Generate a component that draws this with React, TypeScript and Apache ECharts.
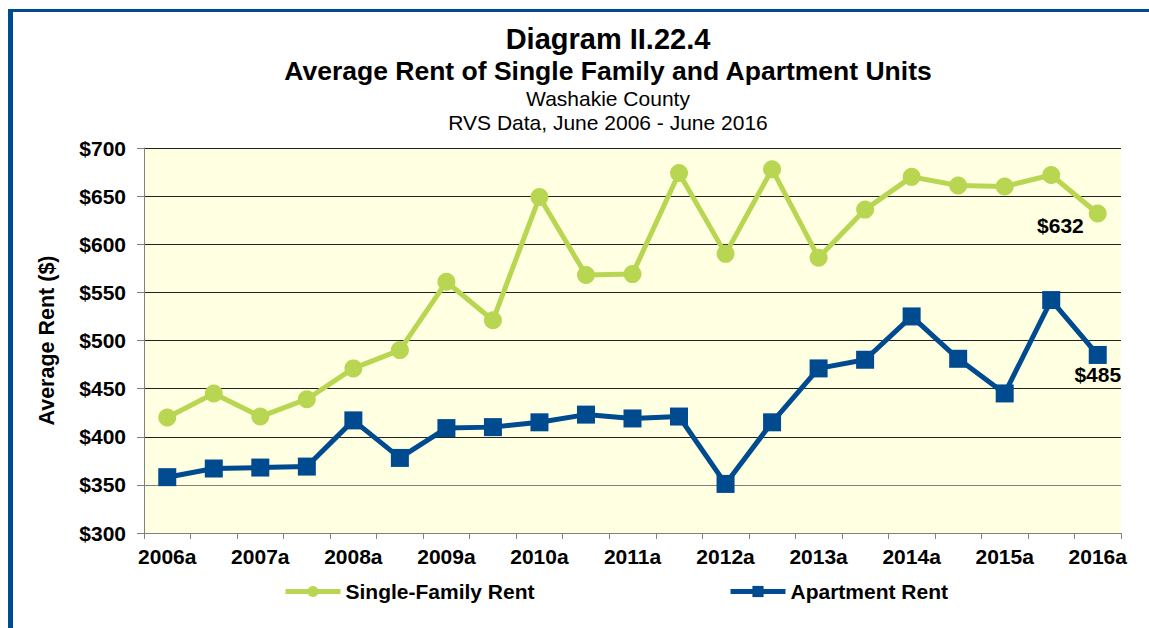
import React, { useEffect, useRef } from "react";
import * as echarts from "echarts";

const categories: string[] = [
  "2006a", "2006b", "2007a", "2007b", "2008a", "2008b", "2009a", "2009b",
  "2010a", "2010b", "2011a", "2011b", "2012a", "2012b", "2013a", "2013b",
  "2014a", "2014b", "2015a", "2015b", "2016a",
];

const singleFamilyRent: number[] = [
  420, 445, 421, 439, 471, 490, 561, 521, 649, 568, 569,
  674, 590, 678, 586, 636, 670, 661, 660, 672, 632,
];

const apartmentRent: number[] = [
  358, 367, 368, 369, 417, 378, 409, 410, 415, 423, 419,
  421, 351, 415, 471, 480, 525, 481, 445, 542, 485,
];

const titleLines: string[] = [
  "Diagram II.22.4",
  "Average Rent of Single Family and Apartment Units",
  "Washakie County",
  "RVS Data, June 2006 - June 2016",
];

const GREEN = "#b8d652";
const BLUE = "#004a90";
const FONT = "Liberation Sans, Arial, sans-serif";
const FS = 21;

export default function App() {
  const ref = useRef<HTMLDivElement>(null);

  useEffect(() => {
    if (!ref.current) return;
    const chart = echarts.init(ref.current, undefined, { renderer: "svg" });

    const lastIdx = categories.length - 1;
    const sfData = singleFamilyRent.map((v, i) =>
      i === lastIdx
        ? {
            value: v,
            label: {
              show: true,
              position: "left",
              distance: 5,
              offset: [0, 12],
              formatter: "${c}",
              color: "#000",
              fontWeight: "bold",
              fontSize: FS,
              fontFamily: FONT,
            },
          }
        : v
    );
    const apData = apartmentRent.map((v, i) =>
      i === lastIdx
        ? {
            value: v,
            label: {
              show: true,
              position: "bottom",
              distance: 5,
              offset: [0, -5],
              formatter: "${c}",
              color: "#000",
              fontWeight: "bold",
              fontSize: FS,
              fontFamily: FONT,
            },
          }
        : v
    );

    const titleStyles = [
      { size: 29, weight: "bold", y: 39 },
      { size: 26.5, weight: "bold", y: 71 },
      { size: 21, weight: "normal", y: 98 },
      { size: 21, weight: "normal", y: 122 },
    ];

    const legendText = { color: "#000", fontWeight: "bold", fontSize: FS, fontFamily: FONT };

    const option: any = {
      animation: false,
      backgroundColor: "#ffffff",
      textStyle: { fontFamily: FONT },
      graphic: [
        { type: "rect", shape: { x: 8, y: 9, width: 1200, height: 3 }, style: { fill: BLUE }, silent: true },
        { type: "rect", shape: { x: 8, y: 9, width: 5, height: 700 }, style: { fill: BLUE }, silent: true },
        ...titleLines.map((t, i) => ({
          type: "text",
          x: 608,
          y: titleStyles[i].y,
          silent: true,
          style: {
            text: t,
            fill: "#000",
            font: `${titleStyles[i].weight} ${titleStyles[i].size}px ${FONT}`,
            align: "center",
            verticalAlign: "middle",
            textAlign: "center",
            textVerticalAlign: "middle",
          },
        })),
      ],
      grid: {
        left: 144,
        right: 28,
        top: 148,
        bottom: 95,
        show: true,
        backgroundColor: "#ffffe1",
        borderWidth: 0,
      },
      legend: [
        {
          data: ["Single-Family Rent"],
          left: 283,
          top: 581,
          padding: 0,
          itemWidth: 55,
          itemHeight: 14,
          lineStyle: { width: 5 },
          textStyle: legendText,
        },
        {
          data: ["Apartment Rent"],
          left: 728,
          top: 581,
          padding: 0,
          itemWidth: 55,
          itemHeight: 14,
          lineStyle: { width: 5 },
          textStyle: legendText,
        },
      ],
      xAxis: {
        type: "category",
        data: categories,
        boundaryGap: true,
        axisLine: { show: true, lineStyle: { color: "#808080", width: 1 } },
        axisTick: { show: true, interval: 0, length: 6, lineStyle: { color: "#808080" } },
        axisLabel: {
          interval: 1,
          margin: 13,
          color: "#000",
          fontWeight: "bold",
          fontSize: FS,
          fontFamily: FONT,
        },
        splitLine: { show: false },
      },
      yAxis: {
        type: "value",
        min: 300,
        max: 700,
        interval: 50,
        name: "Average Rent ($)",
        nameLocation: "middle",
        nameGap: 86,
        nameTextStyle: { color: "#000", fontWeight: "bold", fontSize: 21.5, fontFamily: FONT },
        axisLine: { show: true, lineStyle: { color: "#808080", width: 1 } },
        axisTick: { show: true, length: 7, lineStyle: { color: "#808080" } },
        axisLabel: {
          margin: 18,
          formatter: "${value}",
          color: "#000",
          fontWeight: "bold",
          fontSize: FS,
          fontFamily: FONT,
        },
        splitLine: {
          show: true,
          lineStyle: {
            color: ["#808080", "#808080", "#222", "#222", "#222", "#222", "#222", "#222", "#222"],
            width: 1,
          },
        },
      },
      series: [
        {
          name: "Single-Family Rent",
          type: "line",
          data: sfData,
          symbol: "circle",
          symbolSize: 18,
          lineStyle: { color: GREEN, width: 5 },
          itemStyle: { color: GREEN },
        },
        {
          name: "Apartment Rent",
          type: "line",
          data: apData,
          symbol: "rect",
          symbolSize: 18,
          lineStyle: { color: BLUE, width: 5 },
          itemStyle: { color: BLUE },
        },
      ],
    };

    chart.setOption(option);
    return () => chart.dispose();
  }, []);

  return (
    <div style={{ position: "fixed", left: 0, top: 0, width: 1149, height: 628 }}>
      <div ref={ref} style={{ width: 1149, height: 628 }} />
    </div>
  );
}
